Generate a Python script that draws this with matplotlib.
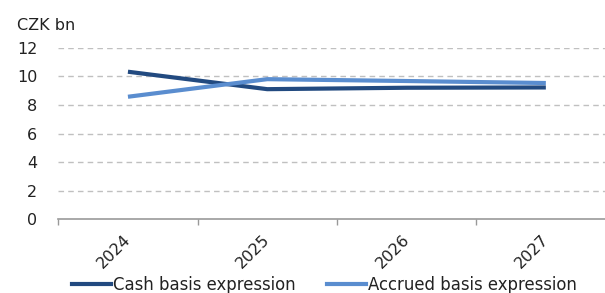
import matplotlib
matplotlib.use("Agg")
import matplotlib.pyplot as plt
from matplotlib.lines import Line2D

years = ["2024", "2025", "2026", "2027"]
cash = [10.32, 9.1, 9.2, 9.22]
accrued = [8.57, 9.8, 9.67, 9.53]
yticks = [0, 2, 4, 6, 8, 10, 12]

dark = "#224a80"
light = "#5a8dcf"

W, H = 605, 293
fig = plt.figure(figsize=(W / 100, H / 100), dpi=100)
step = 139.3
left, bottom, top = 58.3, 219.3, 47.7
right = left + step * len(years)
ax = fig.add_axes([left / W, 1 - bottom / H, (right - left) / W, (bottom - top) / H])

xpos = [i + 0.5 for i in range(len(years))]
ax.plot(xpos, cash, color=dark, lw=3, solid_capstyle="butt", zorder=3)
ax.plot(xpos, accrued, color=light, lw=3, solid_capstyle="butt", zorder=3)

ax.set_xlim(0, len(years))
ax.set_ylim(0, 12)
ax.set_yticks(yticks)
ax.set_yticklabels([str(v) for v in yticks], fontsize=11.5, color="#222222")
ax.tick_params(axis="y", length=0, pad=15)
for v in yticks[1:]:
    ax.axhline(v, color="#c0c0c0", lw=1, ls=(0, (4, 3)), zorder=1)

ax.set_xticks(range(len(years) + 1))
ax.set_xticklabels([])
ax.tick_params(axis="x", length=4, color="#999999", direction="out", width=1)
for i, y in enumerate(years):
    ax.text(i + 0.465, -0.87, y, rotation=45, ha="right", va="top", rotation_mode="anchor",
            fontsize=11.5, color="#222222", transform=ax.transData, clip_on=False)

for s in ["top", "right", "left"]:
    ax.spines[s].set_visible(False)
ax.spines["bottom"].set_color("#999999")
ax.spines["bottom"].set_linewidth(1.2)

fig.text(17 / W, 1 - 26 / H, "CZK bn", fontsize=11.5, color="#222222", va="center", ha="left")

handles = [Line2D([0], [0], color=dark, lw=3), Line2D([0], [0], color=light, lw=3)]
fig.legend(handles, ["Cash basis expression", "Accrued basis expression"],
           loc="center", bbox_to_anchor=(324.5 / W, 1 - 285 / H), ncol=2, frameon=False,
           fontsize=11.9, handlelength=2.35, handletextpad=0.12, columnspacing=1.95,
           labelcolor="#222222", borderpad=0)

fig.savefig("out.png", dpi=100)
